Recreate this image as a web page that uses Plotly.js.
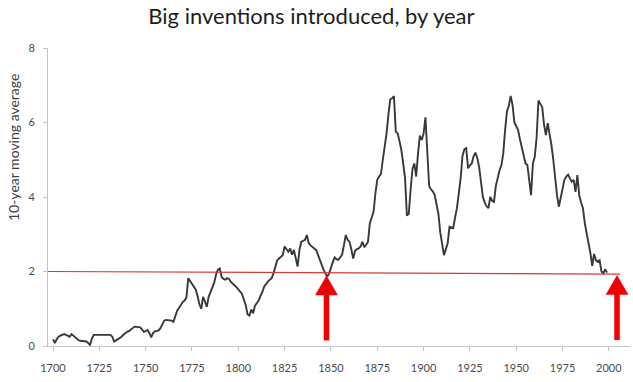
<!DOCTYPE html>
<html>
<head>
<meta charset="utf-8">
<script src="https://cdn.plot.ly/plotly-3.0.1.min.js"></script>
<style>html,body{margin:0;padding:0;background:#fff;}#chart{width:633px;height:382px;}</style>
</head>
<body>
<div id="chart"></div>
<script>
// Data: 10-year moving average of big inventions, by year
var startYear = 1700;
var movingAverage = [
  0.18,0.08,0.18,0.25,0.28,0.30,0.32,0.30,0.28,0.25,
  0.32,0.28,0.22,0.18,0.15,0.14,0.13,0.12,0.12,0.08,
  0.03,0.20,0.30,0.30,0.30,0.30,0.30,0.30,0.30,0.30,
  0.30,0.30,0.25,0.12,0.15,0.18,0.20,0.25,0.30,0.35,
  0.38,0.40,0.43,0.48,0.52,0.52,0.52,0.50,0.45,0.38,
  0.40,0.43,0.35,0.23,0.35,0.40,0.40,0.42,0.48,0.60,
  0.68,0.70,0.70,0.70,0.68,0.65,0.80,0.95,1.02,1.10,
  1.18,1.22,1.30,1.82,1.75,1.68,1.62,1.52,1.35,1.12,
  1.00,1.32,1.20,1.05,1.32,1.45,1.58,1.70,1.92,2.05,
  2.08,1.85,1.80,1.78,1.82,1.80,1.72,1.68,1.62,1.58,
  1.52,1.45,1.40,1.25,1.10,0.85,0.82,0.98,0.88,1.08,
  1.15,1.22,1.35,1.45,1.60,1.68,1.73,1.78,1.82,1.95,
  2.10,2.30,2.35,2.40,2.44,2.67,2.60,2.53,2.62,2.45,
  2.58,2.35,2.13,2.58,2.80,2.82,2.85,2.98,2.76,2.70,
  2.67,2.62,2.58,2.45,2.31,2.15,2.05,1.95,1.86,1.95,
  2.13,2.25,2.38,2.33,2.31,2.38,2.45,2.70,2.98,2.85,
  2.80,2.60,2.35,2.55,2.60,2.62,2.67,2.80,2.65,2.72,
  2.80,3.30,3.48,3.60,4.10,4.46,4.55,4.62,5.00,5.35,
  5.70,6.20,6.62,6.65,6.71,5.75,5.71,5.50,5.26,4.90,
  4.50,3.50,3.55,4.20,4.75,4.90,4.55,5.17,5.65,5.53,
  5.70,6.14,5.00,4.30,4.20,4.15,4.05,3.80,3.55,3.05,
  2.70,2.44,2.60,2.76,3.20,3.18,3.17,3.45,3.70,4.10,
  4.50,5.10,5.28,5.31,4.77,4.85,4.90,5.10,5.19,5.05,
  4.80,4.40,4.00,3.85,3.75,3.70,4.00,3.90,3.87,4.30,
  4.55,4.72,4.85,5.17,5.80,6.30,6.45,6.71,6.47,6.00,
  5.90,5.80,5.55,5.35,5.10,4.90,4.86,4.50,4.05,4.90,
  5.08,5.60,6.59,6.50,6.42,5.95,5.66,5.98,5.71,5.40,
  5.00,4.50,4.05,3.74,4.00,4.20,4.46,4.55,4.60,4.50,
  4.41,4.46,4.14,4.59,4.05,3.85,3.70,3.30,3.05,2.76,
  2.50,2.15,2.47,2.30,2.26,2.30,2.00,1.95,2.06,1.97
];
var years = movingAverage.map(function(_, i){ return startYear + i; });
var xTickVals = [1700,1725,1750,1775,1800,1825,1850,1875,1900,1925,1950,1975,2000];
var xTickText = ["1700","1725","1750","1775","1800","1825","1850","1875","1900","1925","1950","1975","2000"];
var yTickVals = [0,2,4,6,8];
var yTickText = ["0","2","4","6","8"];
var titleText = "Big inventions introduced, by year";
var yTitleText = "10-year moving average";
// Overlay marks: reference line ends and arrow tips / tails (axis units)
var refLineX = [1697.3, 2006];
var refLineY = [2.0, 1.93];
var arrowX = [1847.6, 2004.4];
var arrowTipY = [1.88, 1.89];
var arrowTailY = [0.15, 0.16];

var xRange = [1697.3, 2011.4];
var yRange = [0, 8];
var plotW = 633 - 48 - 3, plotH = 382 - 48 - 36;
var xPerPx = (xRange[1] - xRange[0]) / plotW;
var yPerPx = (yRange[1] - yRange[0]) / plotH;

var trace = {
  x: years, y: movingAverage, type: 'scatter', mode: 'lines',
  line: {color: '#383838', width: 1.9}, hoverinfo: 'x+y'
};

var shapes = [{
  type: 'line', xref: 'x', yref: 'y',
  x0: refLineX[0], y0: refLineY[0], x1: refLineX[1], y1: refLineY[1],
  line: {color: '#d83a34', width: 1.2}
}];
var headLenPx = 19, headHalfPx = 11;
arrowX.forEach(function(ax, i){
  var baseY = arrowTipY[i] - headLenPx * yPerPx;
  shapes.push({
    type: 'line', xref: 'x', yref: 'y',
    x0: ax, y0: arrowTailY[i], x1: ax, y1: baseY + 2 * yPerPx,
    line: {color: '#f00000', width: 5.5}
  });
  var dx = headHalfPx * xPerPx;
  shapes.push({
    type: 'path', xref: 'x', yref: 'y',
    path: 'M ' + (ax - dx) + ',' + baseY + ' L ' + ax + ',' + arrowTipY[i] +
          ' L ' + (ax + dx) + ',' + baseY + ' Z',
    fillcolor: '#f00000', line: {color: '#f00000', width: 0.5}
  });
});

var annotations = [{
  xref: 'paper', yref: 'paper', x: -0.058, y: 0.665,
  xanchor: 'center', yanchor: 'middle',
  text: yTitleText, showarrow: false, textangle: -90,
  font: {family: 'Lato, sans-serif', size: 14, color: '#404040'}
}];

var layout = {
  width: 633, height: 382,
  margin: {l: 48, r: 3, t: 48, b: 36},
  paper_bgcolor: '#ffffff', plot_bgcolor: '#ffffff',
  showlegend: false,
  title: {
    text: titleText, xref: 'container', yref: 'container',
    x: 0.492, xanchor: 'center', y: 0.958, yanchor: 'middle',
    font: {family: 'Lato, sans-serif', size: 22, color: '#1e1e1e'}
  },
  xaxis: {
    range: xRange, showgrid: false, zeroline: false,
    showline: true, linecolor: '#c4c4c4', linewidth: 1,
    ticks: 'outside', ticklen: 4, tickcolor: '#c4c4c4',
    tickvals: xTickVals, ticktext: xTickText, ticklabelstandoff: 8,
    tickfont: {family: 'Lato, sans-serif', size: 11, color: '#4a4a4a'}
  },
  yaxis: {
    range: yRange, showgrid: false, zeroline: false,
    showline: true, linecolor: '#c4c4c4', linewidth: 1,
    ticks: 'outside', ticklen: 4, tickcolor: '#c4c4c4',
    tickvals: yTickVals, ticktext: yTickText, ticklabelstandoff: 6,
    tickfont: {family: 'Lato, sans-serif', size: 11, color: '#4a4a4a'}
  },
  shapes: shapes,
  annotations: annotations
};

Plotly.newPlot('chart', [trace], layout, {displayModeBar: false, staticPlot: true});
</script>
</body>
</html>
